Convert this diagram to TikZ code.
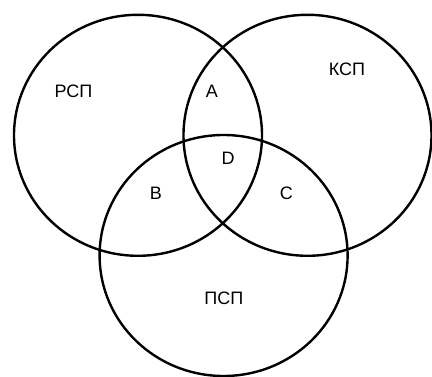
\documentclass[tikz,border=0pt]{standalone}
\usepackage{fontspec}
\setmainfont{Liberation Sans}
\usetikzlibrary{shapes.geometric}
\begin{document}
\begin{tikzpicture}[x=1pt,y=-1pt,
  setring/.style={draw=black, line width=2.4pt, ellipse, inner sep=0pt,
    minimum width=248pt, minimum height=241pt},
  tag/.style={font=\fontsize{18}{20}\selectfont, inner sep=0pt, anchor=center}]
  \useasboundingbox (0,0) rectangle (432,377);
  % the three overlapping sets
  \node[setring] (rsp) at (138,135.3) {};
  \node[setring] (ksp) at (307.5,135.3) {};
  \node[setring] (psp) at (223.6,255.5) {};
  % set names
  \node[tag] (lr) at (73.5,91.7) {РСП};
  \node[tag] (lk) at (347,69.8) {КСП};
  \node[tag] (lp) at (223.8,298.4) {ПСП};
  % intersection regions
  \node[tag] (la) at (212,91.7) {A};
  \node[tag] (ld) at (228.2,158.4) {D};
  \node[tag] (lb) at (155.8,193.3) {B};
  \node[tag] (lc) at (286.3,193.5) {C};
\end{tikzpicture}
\end{document}
